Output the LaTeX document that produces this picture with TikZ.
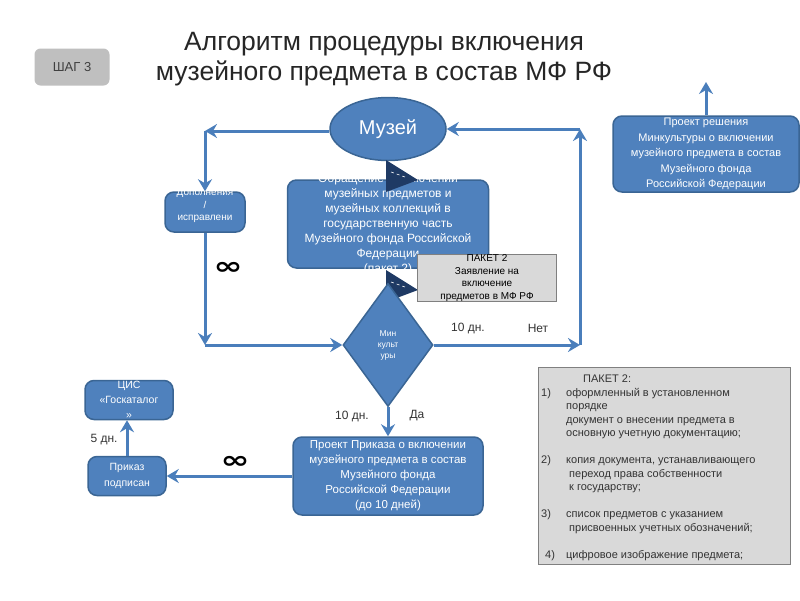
\documentclass[tikz,border=0pt]{standalone}
\usepackage{fontspec}
\setmainfont{Liberation Sans}
\newfontfamily\symfont{DejaVu Sans}
\usetikzlibrary{shapes,arrows,arrows.meta}
\definecolor{fillblue}{HTML}{4F81BD}
\definecolor{edgeblue}{HTML}{3A6594}
\definecolor{lineblue}{HTML}{4A7EBB}
\definecolor{darkblue}{HTML}{1F3A64}
\definecolor{notegray}{HTML}{D9D9D9}
\definecolor{stepgray}{HTML}{BFBFBF}
\definecolor{titlegray}{HTML}{262626}
\tikzstyle{block} = [draw=edgeblue, line width=1.5pt, fill=fillblue, rounded corners=9pt, inner sep=0pt]
\tikzstyle{blocktext} = [text=white, align=center, inner sep=0pt]
\tikzstyle{note} = [draw=gray, line width=1pt, fill=notegray, inner sep=0pt]
\tikzstyle{stepbox} = [fill=stepgray, rounded corners=6pt, minimum width=75pt, minimum height=37pt, text=black!75]
\tikzstyle{daylabel} = [font=\fontsize{12}{14}\selectfont, text=black!80]
\tikzstyle{loopmark} = [font=\symfont\bfseries\fontsize{24}{24}\selectfont, inner sep=0pt]
\tikzstyle{flow} = [draw=lineblue, line width=3pt, ->]

\begin{document}
\begin{tikzpicture}[x=1pt, y=-1pt, >={Stealth[length=12pt, width=14pt, inset=4pt]}]
\useasboundingbox (0,0) rectangle (800,600);

    % title and step
    \node [text=titlegray, align=center, font=\fontsize{26.5}{30}\selectfont] (title) at (384,59)
        {Алгоритм процедуры включения\\музейного предмета в состав МФ РФ};
    \node [stepbox, font=\fontsize{13}{15}\selectfont] (step) at (72,67) {ШАГ 3};

    % We start by placing the blocks
    \node [ellipse, draw=edgeblue, line width=1.5pt, fill=fillblue, minimum width=116pt, minimum height=63pt,
        text=white, font=\fontsize{20}{24}\selectfont] (museum) at (388,129) {Музей};
    \node [block, minimum width=80pt, minimum height=40pt] (fix) at (205,212) {};
    \node [blocktext, font=\fontsize{10}{12.5}\selectfont] (fixtext) at (205,206) {Дополнения\\/\\исправлени};
    \node [block, minimum width=201pt, minimum height=88pt] (request) at (388,224) {};
    \node [blocktext, font=\fontsize{12}{15}\selectfont] (requesttext) at (388,224)
        {Обращение о включении\\музейных предметов и\\музейных коллекций в\\государственную часть\\Музейного фонда Российской\\Федерации\\(пакет 2)};
    \fill [darkblue] (386,160) -- (386,192) -- (418,180) -- cycle;
    \fill [darkblue] (386,270) -- (386,302) -- (418,290) -- cycle;
    \draw [white, dashed, line width=0.6pt] (391,172) -- (405,177);
    \draw [white, dashed, line width=0.6pt] (391,282) -- (405,287);
    \node [note, minimum width=139pt, minimum height=45pt, align=center, font=\fontsize{10}{12.5}\selectfont]
        (packet) at (487,278) {ПАКЕТ 2\\Заявление на\\включение\\предметов в МФ РФ};
    \node [diamond, draw=edgeblue, line width=1.5pt, fill=fillblue, minimum width=90pt, minimum height=123pt,
        inner sep=0pt, text=white, align=center, font=\fontsize{8.5}{11}\selectfont] (minkult) at (388,345) {Мин\\культ\\уры};
    \node [block, minimum width=190pt, minimum height=78pt, text=white, align=center, font=\fontsize{11.5}{15}\selectfont]
        (order) at (388,476) {Проект Приказа о включении\\музейного предмета в состав\\Музейного фонда\\Российской Федерации\\(до 10 дней)};
    \node [block, minimum width=78pt, minimum height=39pt, text=white, align=center, font=\fontsize{10.5}{16}\selectfont]
        (signed) at (127,476) {Приказ\\подписан};
    \node [block, minimum width=88pt, minimum height=39pt, text=white, align=center, font=\fontsize{10.5}{15}\selectfont]
        (catalog) at (129,400) {ЦИС\\«Госкаталог\\»};
    \node [block, minimum width=186pt, minimum height=76pt, text=white, align=center, font=\fontsize{11}{15.5}\selectfont]
        (decision) at (706,154) {Проект решения\\Минкультуры о включении\\музейного предмета в состав\\Музейного фонда\\Российской Федерации};
    \node [note, minimum width=252pt, minimum height=197pt] (packetlist) at (664,466) {};
    \node [anchor=north west, inner sep=0pt, align=left, text=black!80, font=\fontsize{11}{13.5}\selectfont]
        (packetlisttext) at (541,375) {%
        \hspace*{42pt}ПАКЕТ 2:\\
        \makebox[25pt][l]{1)}оформленный в установленном\\
        \hspace*{25pt}порядке\\
        \hspace*{25pt}документ о внесении предмета в\\
        \hspace*{25pt}основную учетную документацию;\\[13.5pt]
        \makebox[25pt][l]{2)}копия документа, устанавливающего\\
        \hspace*{28pt}переход права собственности\\
        \hspace*{28pt}к государству;\\[13.5pt]
        \makebox[25pt][l]{3)}список предметов с указанием\\
        \hspace*{28pt}присвоенных учетных обозначений;\\[13.5pt]
        \hspace*{4pt}\makebox[21pt][l]{4)}цифровое изображение предмета;};

    % labels
    \node [daylabel] (daysno) at (468,328) {10 дн.};
    \node [daylabel] (no) at (538,328) {Нет};
    \node [daylabel] (daysyes) at (352,416) {10 дн.};
    \node [daylabel] (yes) at (417,416) {Да};
    \node [daylabel] (dayscat) at (104,440) {5 дн.};
    \node [loopmark] (loopa) at (228,268) {\scalebox{1.45}[1]{∞}};
    \node [loopmark] (loopb) at (235,462) {\scalebox{1.45}[1]{∞}};

    \coordinate (tl) at (205,131);
    \coordinate (bl) at (205,345);
    \coordinate (tr) at (580,129);
    \coordinate (br) at (580,345);
    \coordinate (up) at (706,82);

    \draw [flow] (tl -| museum.west) -- (tl);
    \draw [flow] (tl) -- (fix.north);
    \draw [flow] (fix.south) -- (bl);
    \draw [flow] (bl) -- (minkult.west);
    \draw [flow] (minkult.east) -- (br);
    \draw [flow] (br) -- (tr);
    \draw [flow] (tr) -- (museum.east);
    \draw [flow] (minkult.south) -- (order.north);
    \draw [flow] (order.west) -- (signed.east);
    \draw [flow] (signed.north) -- (catalog.south -| signed.north);
    \draw [flow] (decision.north) -- (up);

\end{tikzpicture}
\end{document}
